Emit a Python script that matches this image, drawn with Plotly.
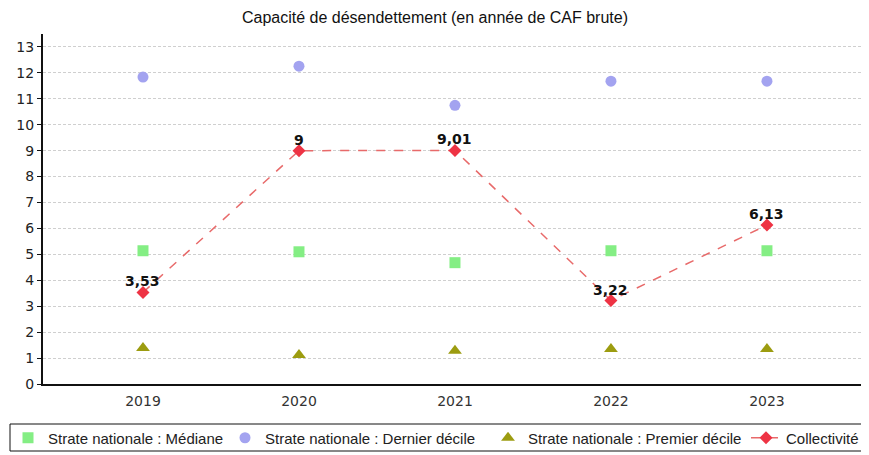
import plotly.graph_objects as go

years = ["2019", "2020", "2021", "2022", "2023"]
mediane = [5.14, 5.10, 4.68, 5.14, 5.14]
dernier_decile = [11.84, 12.26, 10.75, 11.68, 11.68]
premier_decile = [1.39, 1.12, 1.28, 1.35, 1.35]
collectivite = [3.53, 9, 9.01, 3.22, 6.13]
y_ticks = list(range(0, 14))

W, H = 861, 447  # page body has an 8px margin

legend_font = dict(family="Liberation Sans", size=15, color="#222222")

def leg(x):
    return dict(orientation="h", x=x / W, xanchor="left", xref="container",
                y=1 - 430 / H, yanchor="middle", yref="container",
                borderwidth=0, bgcolor="rgba(0,0,0,0)",
                font=legend_font, itemwidth=30)

fig = go.Figure()
fig.add_trace(go.Scatter(
    x=years, y=mediane, mode="markers", name="Strate nationale : Médiane",
    marker=dict(symbol="square", size=11, color="#84EE84"), legend="legend",
))
fig.add_trace(go.Scatter(
    x=years, y=dernier_decile, mode="markers", name="Strate nationale : Dernier décile",
    marker=dict(symbol="circle", size=11, color="#A3A3F0"), legend="legend2",
))
fig.add_trace(go.Scatter(
    x=years, y=premier_decile, mode="markers", name="Strate nationale : Premier décile",
    marker=dict(symbol="triangle-up", size=12, color="#9C9C10"), legend="legend3",
))
fig.add_trace(go.Scatter(
    x=years, y=collectivite, mode="lines+markers", name="Collectivité",
    line=dict(color="#E86A6A", width=1.5, dash="dash"),
    marker=dict(symbol="diamond", size=10, color="#EE3344"),
    legend="legend4",
))

def fmt(v):
    s = f"{v:.2f}".rstrip("0").rstrip(".")
    return s.replace(".", ",")

annotations = [
    dict(x=i, y=v, xref="x", yref="y", text=fmt(v), showarrow=False,
         yanchor="middle", xanchor="center", yshift=11,
         font=dict(family="DejaVu Sans", size=14, color="#111111", weight="bold"))
    for i, v in enumerate(collectivite)
]

# plot area in figure pixels: left 35, right 858, top 26, bottom 376
L, R, T, B = 35, 858, 26, 376
def px(fx):
    return (fx - L) / (R - L)
def py(fy):
    return (B - fy) / (B - T)

fig.update_layout(
    width=W, height=H,
    margin=dict(l=L, r=W - R, t=T, b=H - B, autoexpand=False),
    paper_bgcolor="white", plot_bgcolor="white",
    title=dict(text="Capacité de désendettement (en année de CAF brute)",
               x=427 / W, xanchor="center", xref="container",
               y=1 - 9 / H, yanchor="middle", yref="container",
               font=dict(family="Liberation Sans", size=16, color="#111111")),
    showlegend=True,
    legend=leg(-8),
    legend2=leg(217),
    legend3=leg(480),
    legend4=leg(738),
    annotations=annotations,
    shapes=[dict(type="rect", xref="paper", yref="paper",
                 x0=px(2), x1=px(875), y0=py(443), y1=py(416),
                 line=dict(color="#111111", width=1), fillcolor="rgba(0,0,0,0)",
                 layer="above")],
)
fig.update_xaxes(
    type="category", range=[-0.641, 4.635], automargin=False,
    showline=True, linecolor="#111111", linewidth=2,
    showgrid=False, ticks="outside", ticklen=3, tickcolor="rgba(0,0,0,0)",
    tickfont=dict(family="DejaVu Sans", size=14, color="#333333"),
)
fig.update_yaxes(
    range=[0, 13.5], tickvals=y_ticks, ticktext=[str(v) for v in y_ticks],
    automargin=False,
    showline=True, linecolor="#111111", linewidth=2,
    ticks="outside", ticklen=4, tickcolor="#111111",
    showgrid=True, gridcolor="#CFCFCF", griddash="3px,2px", gridwidth=1,
    zeroline=False,
    tickfont=dict(family="DejaVu Sans", size=14, color="#222222"),
)

fig.write_html("out.html")
